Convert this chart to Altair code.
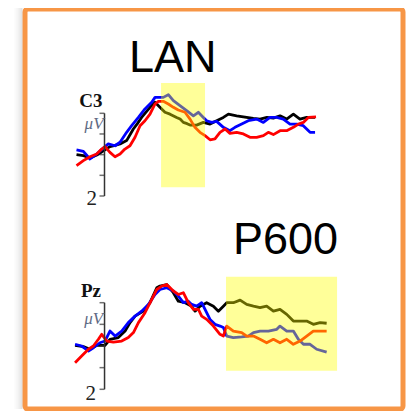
import altair as alt
import pandas as pd

# ---------------- data (time in ms, amplitude in microvolts; negative up) ----------------
C3_BLACK = [(-200, 0.00), (-150, 0.05), (-104, 0.16), (-55, 0.02), (-8, -0.19), (39, -0.39), (75, -0.45),
            (111, -0.52), (158, -0.68), (206, -1.24), (235, -1.50), (265, -1.80), (295, -2.05), (325, -2.29),
            (361, -2.53), (396, -2.29), (432, -2.05), (468, -1.96), (515, -1.80), (540, -1.72), (563, -1.56),
            (590, -1.50), (611, -1.43), (658, -1.43), (706, -1.56), (754, -1.48), (801, -1.64), (849, -1.80),
            (885, -1.96), (944, -1.88), (1015, -1.80), (1063, -1.75), (1111, -1.72), (1160, -1.80),
            (1206, -1.77), (1254, -1.88), (1301, -1.72), (1349, -1.96), (1396, -1.72), (1444, -1.80),
            (1504, -1.80)]
C3_BLUE = [(-200, -0.23), (-151, -0.16), (-104, 0.21), (-56, -0.03), (-8, -0.32), (27, -0.52), (75, -0.43),
           (111, -0.60), (158, -1.08), (194, -1.40), (242, -1.80), (289, -2.21), (337, -2.53), (361, -2.77),
           (420, -2.77), (456, -2.90), (492, -2.61), (539, -2.37), (587, -2.13), (635, -1.88), (670, -2.05),
           (706, -1.80), (730, -1.64), (765, -1.56), (801, -1.61), (849, -1.32), (896, -1.16), (932, -1.32),
           (980, -1.48), (1027, -1.64), (1087, -1.72), (1135, -1.56), (1182, -1.80), (1230, -1.80),
           (1277, -1.72), (1325, -1.48), (1373, -1.48), (1420, -1.40), (1468, -1.08), (1504, -1.08)]
C3_RED = [(-200, 0.53), (-151, 0.29), (-104, 0.10), (-56, -0.03), (-20, -0.27), (4, -0.39), (39, -0.11),
          (75, 0.10), (111, -0.03), (146, -0.27), (182, -0.43), (218, -0.84), (254, -1.40), (289, -1.64),
          (325, -1.96), (361, -2.45), (385, -2.58), (420, -2.58), (456, -2.45), (492, -2.29), (527, -2.16),
          (575, -2.05), (611, -1.72), (646, -1.32), (682, -1.08), (718, -0.92), (754, -0.72), (789, -0.76),
          (825, -1.08), (861, -1.24), (896, -1.03), (944, -1.08), (992, -1.00), (1039, -0.84), (1087, -0.84),
          (1135, -0.92), (1170, -1.08), (1206, -0.97), (1254, -1.16), (1301, -1.16), (1349, -1.32),
          (1385, -1.48), (1420, -1.56), (1456, -1.80), (1511, -1.83)]

PZ_BLACK = [(-201, -0.03), (-144, 0.03), (-99, 0.15), (-53, -0.03), (3, -0.03), (37, -0.31), (94, -0.39),
            (140, -0.69), (174, -1.08), (208, -1.38), (265, -1.61), (310, -2.00), (356, -2.69), (378, -2.77),
            (424, -2.84), (469, -2.46), (503, -2.07), (549, -2.00), (594, -1.84), (617, -1.61), (651, -1.84),
            (696, -2.00), (742, -1.84), (776, -1.61), (810, -1.84), (833, -2.00), (878, -2.00), (924, -2.12),
            (969, -1.92), (1015, -1.84), (1060, -1.77), (1105, -1.84), (1151, -1.61), (1196, -1.69),
            (1242, -1.46), (1287, -1.15), (1333, -1.15), (1378, -1.15), (1423, -1.00), (1469, -1.08),
            (1514, -1.05)]
PZ_BLUE = [(-201, -0.08), (-156, 0.00), (-110, 0.23), (-76, 0.08), (-31, -0.15), (3, -0.23), (37, -0.69),
           (72, -0.46), (117, -0.69), (162, -1.08), (208, -1.38), (253, -1.61), (299, -1.92), (344, -2.38),
           (378, -2.61), (424, -2.69), (469, -2.54), (503, -2.31), (537, -2.00), (571, -2.07), (594, -1.92),
           (628, -1.84), (662, -2.00), (685, -1.69), (719, -1.23), (753, -1.00), (787, -0.92), (810, -0.85),
           (833, -0.46), (878, -0.39), (935, -0.42), (980, -0.46), (1015, -0.62), (1060, -0.69), (1117, -0.69),
           (1174, -0.77), (1196, -0.92), (1242, -0.69), (1287, -0.69), (1321, -0.31), (1356, -0.08),
           (1401, -0.08), (1446, 0.15), (1514, 0.28)]
PZ_RED = [(-201, 0.77), (-156, 0.46), (-110, 0.15), (-76, 0.00), (-42, -0.31), (-19, -0.54), (15, -0.23),
          (60, -0.18), (117, -0.23), (162, -0.39), (197, -0.62), (231, -1.08), (276, -1.54), (322, -2.15),
          (356, -2.61), (390, -2.77), (424, -2.84), (469, -2.54), (503, -2.38), (537, -2.46), (571, -2.00),
          (606, -1.69), (640, -1.69), (662, -1.38), (696, -1.23), (742, -0.92), (787, -0.54), (810, -0.46),
          (833, -0.92), (878, -0.69), (935, -0.62), (969, -0.46), (1015, -0.46), (1060, -0.31), (1105, -0.15),
          (1151, -0.31), (1196, -0.15), (1242, -0.31), (1287, -0.08), (1333, -0.23), (1378, -0.46),
          (1423, -0.69), (1469, -0.69), (1514, -0.69)]

# analysis windows (ms, µV extent)
C3_WINDOW = {"t0": 404, "t1": 718, "v0": -3.47, "v1": 1.58}
PZ_WINDOW = {"t0": 828, "t1": 1585, "v0": -3.20, "v1": 1.14}

AXIS_TICKS = [-2, -1, 0, 1, 2]

# text annotations: (text, t, v)
C3_TITLE = ("LAN", 175, -3.99)
PZ_TITLE = ("P600", 876, -4.25)
C3_CHAN = ("C3", -14, -2.30)
PZ_CHAN = ("Pz", -24, -2.26)
C3_UNIT = ("\u03bcV", -7, -1.24)
PZ_UNIT = ("\u03bcV", -10, -1.02)
C3_TICKLAB = ("2", -54, 2.44)
PZ_TICKLAB = ("2", -58, 2.49)

W, H = 378, 400


def df(pairs):
    return pd.DataFrame(pairs, columns=["t", "v"])


def panel(series, window, title, chan, unit, ticklab, xrange, yrange):
    xs = alt.Scale(domain=[-200, 1500], range=xrange, nice=False, zero=False)
    ys = alt.Scale(domain=[-2, 2], range=yrange, nice=False, zero=False)
    X = alt.X("t:Q", scale=xs, axis=None)
    Y = alt.Y("v:Q", scale=ys, axis=None)
    layers = []
    for pairs, col in series:
        layers.append(alt.Chart(df(pairs)).mark_line(color=col, strokeWidth=2.8, strokeJoin="round")
                      .encode(x=X, y=Y))
    # axis bracket
    layers.append(alt.Chart(pd.DataFrame({"t": [0], "v": [AXIS_TICKS[0]], "v2": [AXIS_TICKS[-1]]}))
                  .mark_rule(color="#333333", strokeWidth=1.5)
                  .encode(x=X, y=Y, y2="v2:Q"))
    layers.append(alt.Chart(pd.DataFrame({"t": [0] * len(AXIS_TICKS), "v": AXIS_TICKS}))
                  .mark_tick(orient="horizontal", size=5, thickness=1.5, color="#333333", xOffset=-2.5)
                  .encode(x=X, y=Y))
    # yellow window (semi-transparent, on top of the traces)
    layers.append(alt.Chart(pd.DataFrame([window]))
                  .mark_rect(color="#ffff00", opacity=0.4)
                  .encode(x=alt.X("t0:Q", scale=xs, axis=None), x2="t1:Q",
                          y=alt.Y("v0:Q", scale=ys, axis=None), y2="v1:Q"))

    # texts
    def txt(item, **kw):
        d = pd.DataFrame([{"label": item[0], "t": item[1], "v": item[2]}])
        return alt.Chart(d).mark_text(baseline="alphabetic", **kw).encode(x=X, y=Y, text="label:N")
    layers.append(txt(title, font="Liberation Sans", fontSize=45, align="left", color="#000000"))
    layers.append(txt(chan, font="Liberation Serif", fontSize=19, fontWeight="bold", align="right",
                      color="#111111"))
    layers.append(txt(unit, font="Liberation Serif", fontSize=17, fontStyle="italic", align="right",
                      color="#5f6b85"))
    layers.append(txt(ticklab, font="Liberation Serif", fontSize=21, align="right", color="#222222"))
    return alt.layer(*layers)


c3 = panel([(C3_BLACK, "#000000"), (C3_BLUE, "#0000ff"), (C3_RED, "#ff0000")], C3_WINDOW,
           C3_TITLE, C3_CHAN, C3_UNIT, C3_TICKLAB, [51.5, 289.5], [104.3, 187.0])
pz = panel([(PZ_BLACK, "#000000"), (PZ_BLUE, "#0000ff"), (PZ_RED, "#ff0000")], PZ_WINDOW,
           PZ_TITLE, PZ_CHAN, PZ_UNIT, PZ_TICKLAB, [50.2, 299.6], [293.7, 380.3])

# soft shadow on the frame's left and top edges
one = pd.DataFrame({"k": [0]})
shadow = []
for d, op in [(3.5, 0.22), (5.5, 0.14), (7.5, 0.08), (9.5, 0.04)]:
    shadow.append(alt.Chart(one).mark_rule(color="#808080", strokeWidth=2, opacity=op)
                  .encode(x=alt.value(-d), y=alt.value(-d), y2=alt.value(H)))
    shadow.append(alt.Chart(one).mark_rule(color="#808080", strokeWidth=2, opacity=op)
                  .encode(x=alt.value(-d), x2=alt.value(W), y=alt.value(-d)))

chart = (alt.layer(*shadow, c3, pz)
         .resolve_scale(x="independent", y="independent")
         .properties(width=W, height=H,
                     autosize=alt.AutoSizeParams(type="none"),
                     padding={"left": 17, "top": 1, "right": 3, "bottom": 2})
         .configure_view(stroke="#F79646", strokeWidth=5, cornerRadius=3, fill="#ffffff"))

chart.save("out.html", embed_options={"renderer": "svg", "actions": False})
